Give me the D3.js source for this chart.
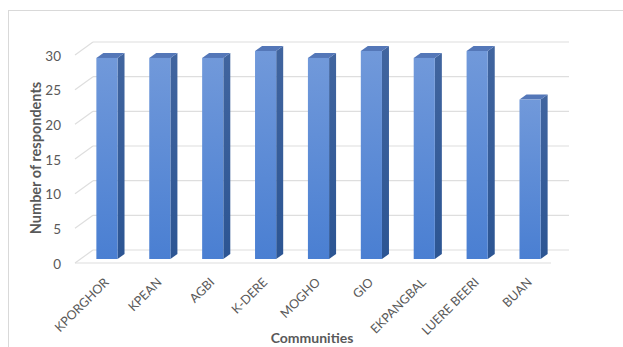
<!DOCTYPE html>
<html><head><meta charset="utf-8">
<script src="https://cdn.jsdelivr.net/npm/d3@7"></script>
<style>body{margin:0;background:#fff}svg{display:block}</style>
</head><body>
<script>
const categories = ["KPORGHOR","KPEAN","AGBI","K-DERE","MOGHO","GIO","EKPANGBAL","LUERE BEERI","BUAN"];
const values = [29,29,29,30,29,30,29,30,23];
const yTicks = [0,5,10,15,20,25,30];
const xTitle = "Communities";
const yTitle = "Number of respondents";

const W=623,H=347;
const svg=d3.select("body").append("svg").attr("width",W).attr("height",H);
const defs=svg.append("defs");
const gf=defs.append("linearGradient").attr("id","gf").attr("x1",0).attr("y1",0).attr("x2",0).attr("y2",1);
gf.append("stop").attr("offset","0%").attr("stop-color","#7199da");
gf.append("stop").attr("offset","100%").attr("stop-color","#4a7fd2");
const gs=defs.append("linearGradient").attr("id","gs").attr("x1",0).attr("y1",0).attr("x2",0).attr("y2",1);
gs.append("stop").attr("offset","0%").attr("stop-color","#41659f");
gs.append("stop").attr("offset","100%").attr("stop-color","#2c5593");

// chart border
svg.append("rect").attr("x",8.5).attr("y",10.5).attr("width",W).attr("height",H).attr("fill","none").attr("stroke","#d9d9d9");

const x=d3.scaleBand().domain(categories).range([75,551]).paddingInner(0.6).paddingOuter(0.3);
const y=d3.scaleLinear().domain([0,30]).range([263,55]);
const floorD=[18,-13], barOff=[5.5,-4], barD=[7,-5];
const grid="#dedede";

// back-wall gridlines and side diagonals
yTicks.forEach(t=>{
  svg.append("line").attr("x1",75+floorD[0]).attr("x2",551+floorD[0]).attr("y1",y(t)+floorD[1]).attr("y2",y(t)+floorD[1]).attr("stroke",grid).attr("stroke-width",1.2);
  svg.append("line").attr("x1",75).attr("x2",75+floorD[0]).attr("y1",y(t)).attr("y2",y(t)+floorD[1]).attr("stroke",grid).attr("stroke-width",1.2);
});
// floor front edge
svg.append("line").attr("x1",75).attr("x2",551).attr("y1",y(0)).attr("y2",y(0)).attr("stroke",grid).attr("stroke-width",1.2);

// bars
const bars=svg.append("g");
categories.forEach((c,i)=>{
  const x0=x(c)+barOff[0], x1=x0+x.bandwidth();
  const yt=y(values[i])+barOff[1], yb=y(0)+barOff[1];
  const dx=barD[0], dy=barD[1];
  bars.append("path").attr("d",`M${x1},${yt}L${x1+dx},${yt+dy}L${x1+dx},${yb+dy}L${x1},${yb}Z`).attr("fill","url(#gs)");
  bars.append("path").attr("d",`M${x0},${yt}L${x0+dx},${yt+dy}L${x1+dx},${yt+dy}L${x1},${yt}Z`).attr("fill","#5477b8");
  bars.append("rect").attr("x",x0).attr("y",yt).attr("width",x1-x0).attr("height",yb-yt).attr("fill","url(#gf)");
});

const font="Lato, 'Open Sans', sans-serif";
// y tick labels
svg.append("g").selectAll("text").data(yTicks).join("text")
  .attr("x",61).attr("y",d=>y(d)+1).attr("dy","0.35em").attr("text-anchor","end")
  .attr("font-family",font).attr("font-size",13.5).attr("fill","#595959").text(d=>d);
// x labels
svg.append("g").selectAll("text").data(categories).join("text")
  .attr("transform",d=>`translate(${x(d)+x.bandwidth()/2+5},${280}) rotate(-45)`)
  .attr("text-anchor","end").attr("dy","0.35em")
  .attr("font-family",font).attr("font-size",12.5).attr("fill","#595959").text(d=>d);
// titles
svg.append("text").attr("x",312).attr("y",343).attr("text-anchor","middle")
  .attr("font-family",font).attr("font-weight","bold").attr("font-size",14).attr("fill","#595959").text(xTitle);
svg.append("text").attr("transform","translate(41,158) rotate(-90)").attr("text-anchor","middle")
  .attr("font-family",font).attr("font-weight","bold").attr("font-size",14.5).attr("fill","#595959").text(yTitle);
</script>
</body></html>
